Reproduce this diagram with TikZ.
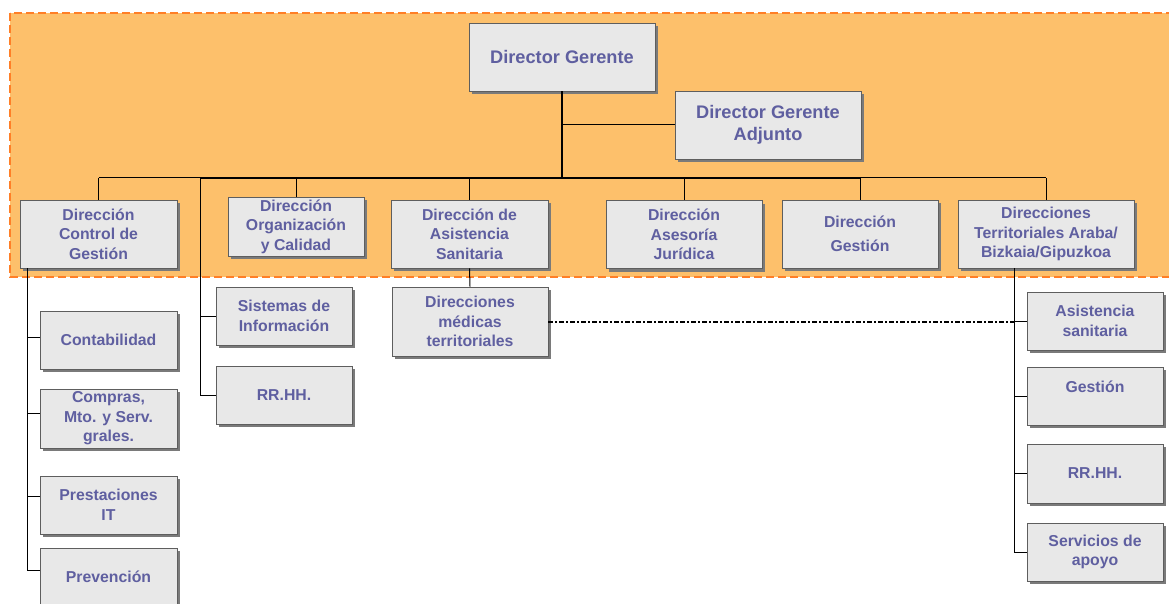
\documentclass[tikz,border=0pt]{standalone}
\usepackage{fontspec}
\setmainfont{Liberation Sans}
\usetikzlibrary{shadows}

\definecolor{naranja}{HTML}{FDC06B}
\definecolor{naranjaborde}{HTML}{FF7F27}
\definecolor{fondocaja}{HTML}{E8E8E8}
\definecolor{bordecaja}{HTML}{5E5E5E}
\definecolor{sombra}{HTML}{7A7A7A}
\definecolor{textocaja}{HTML}{5F5FA0}

\tikzset{
  caja/.style={draw=bordecaja, line width=0.9pt, fill=fondocaja, text=textocaja,
    font=\bfseries\fontsize{15.8}{19.5}\selectfont, align=center, inner sep=0pt,
    drop shadow={shadow xshift=3pt, shadow yshift=-3pt, fill=sombra, opacity=1}},
  cajagrande/.style={caja, font=\bfseries\fontsize{18.2}{21.7}\selectfont},
  linea/.style={line width=1pt},
  gruesa/.style={line width=1.8pt},
  puntoraya/.style={line width=2pt, dash pattern=on 4.5pt off 2.5pt on 1.5pt off 2.5pt},
}

\begin{document}
\begin{tikzpicture}[x=1pt, y=-1pt]
  \fill[white] (0,0) rectangle (1169,604);
  \useasboundingbox (0,0) rectangle (1169,604);

  % Zona de direccion
  \draw[fill=naranja, draw=naranjaborde, line width=1.5pt, dash pattern=on 8pt off 4pt]
    (10,13) rectangle (1180,277);

  % Direccion gerente
  \node[cajagrande, minimum width=186pt, minimum height=68pt] (dg) at (562,57) {Director Gerente};
  \node[cajagrande, minimum width=186pt, minimum height=68pt] (dga) at (768,125) {Director Gerente\\Adjunto};

  % Direcciones
  \node[caja, minimum width=157pt, minimum height=68pt] (dcg) at (98.5,234) {Dirección\\Control de\\Gestión};
  \node[caja, minimum width=136pt, minimum height=59pt] (doc) at (296,226.5) {Dirección\\Organización\\y Calidad};
  \node[caja, minimum width=157pt, minimum height=68pt] (das) at (469.5,234) {Dirección de\\Asistencia\\Sanitaria};
  \node[caja, minimum width=156pt, minimum height=68pt] (daj) at (684,234.5) {Dirección\\Asesoría\\Jurídica};
  \node[caja, minimum width=156pt, minimum height=68pt] (dgest) at (860,234) {Dirección\\[4pt]Gestión};
  \node[caja, minimum width=176pt, minimum height=68pt] (dter) at (1046,234) {Direcciones\\Territoriales Araba/\\Bizkaia/Gipuzkoa};

  % Control de gestion
  \node[caja, minimum width=137pt, minimum height=58pt] (cont) at (108.5,340) {Contabilidad};
  \node[caja, minimum width=137pt, minimum height=59pt] (comp) at (108.5,418.5) {Compras,\\Mto. y Serv.\\grales.};
  \node[caja, minimum width=137pt, minimum height=58pt] (prest) at (108.5,505) {Prestaciones\\IT};
  \node[caja, minimum width=137pt, minimum height=58pt] (prev) at (108.5,577) {Prevención};

  % Organizacion y calidad
  \node[caja, minimum width=136pt, minimum height=58pt] (sis) at (284,316) {Sistemas de\\Información};
  \node[caja, minimum width=136pt, minimum height=58pt] (rrhhA) at (284,395) {RR.HH.};

  % Asistencia sanitaria
  \node[caja, minimum width=156pt, minimum height=69pt] (dmt) at (470,321.5) {Direcciones\\médicas\\territoriales};

  % Territoriales
  \node[caja, minimum width=136pt, minimum height=58pt] (asan) at (1095,321) {Asistencia\\sanitaria};
  \node[caja, minimum width=136pt, minimum height=58pt] (gest) at (1095,396) {Gestión\\\mbox{}};
  \node[caja, minimum width=136pt, minimum height=59pt] (rrhhB) at (1095,473.5) {RR.HH.};
  \node[caja, minimum width=136pt, minimum height=58pt] (serv) at (1095,552) {Servicios de\\apoyo};

  % Lineas principales
  \coordinate (bus) at (562,178);
  \draw[gruesa] (dg.south) -- (bus);
  \draw[linea] (dg.south |- dga.west) -- (dga.west);
  \draw[linea] (dcg.north |- bus) -- (dter.north |- bus);
  \draw[gruesa] (200,178) -- (dgest.north |- bus);
  \foreach \n in {dcg,doc,das,daj,dgest,dter}
    \draw[linea] (\n.north |- bus) -- (\n.north);

  % Ramas
  \draw[linea] (dcg.south west) ++(8,0) coordinate (izq) |- ([yshift=7pt]prev.west);
  \foreach \n/\d in {cont/3,comp/5.5,prest/9}
    \draw[linea] ([yshift=\d pt]\n.west) -- ([yshift=\d pt]\n.west -| izq);
  \coordinate (centro) at (200,178);
  \draw[linea] (centro) |- (rrhhA.west);
  \draw[linea] (sis.west) -- (sis.west -| centro);
  \draw[linea] (das.south) -- (dmt.north);
  \draw[linea] (dter.south west) ++(57,0) coordinate (der) |- (serv.west);
  \foreach \n in {asan,gest,rrhhB}
    \draw[linea] (\n.west) -- (\n.west -| der);
  \draw[puntoraya] (dmt.east) -- (dmt.east -| der);
\end{tikzpicture}
\end{document}
